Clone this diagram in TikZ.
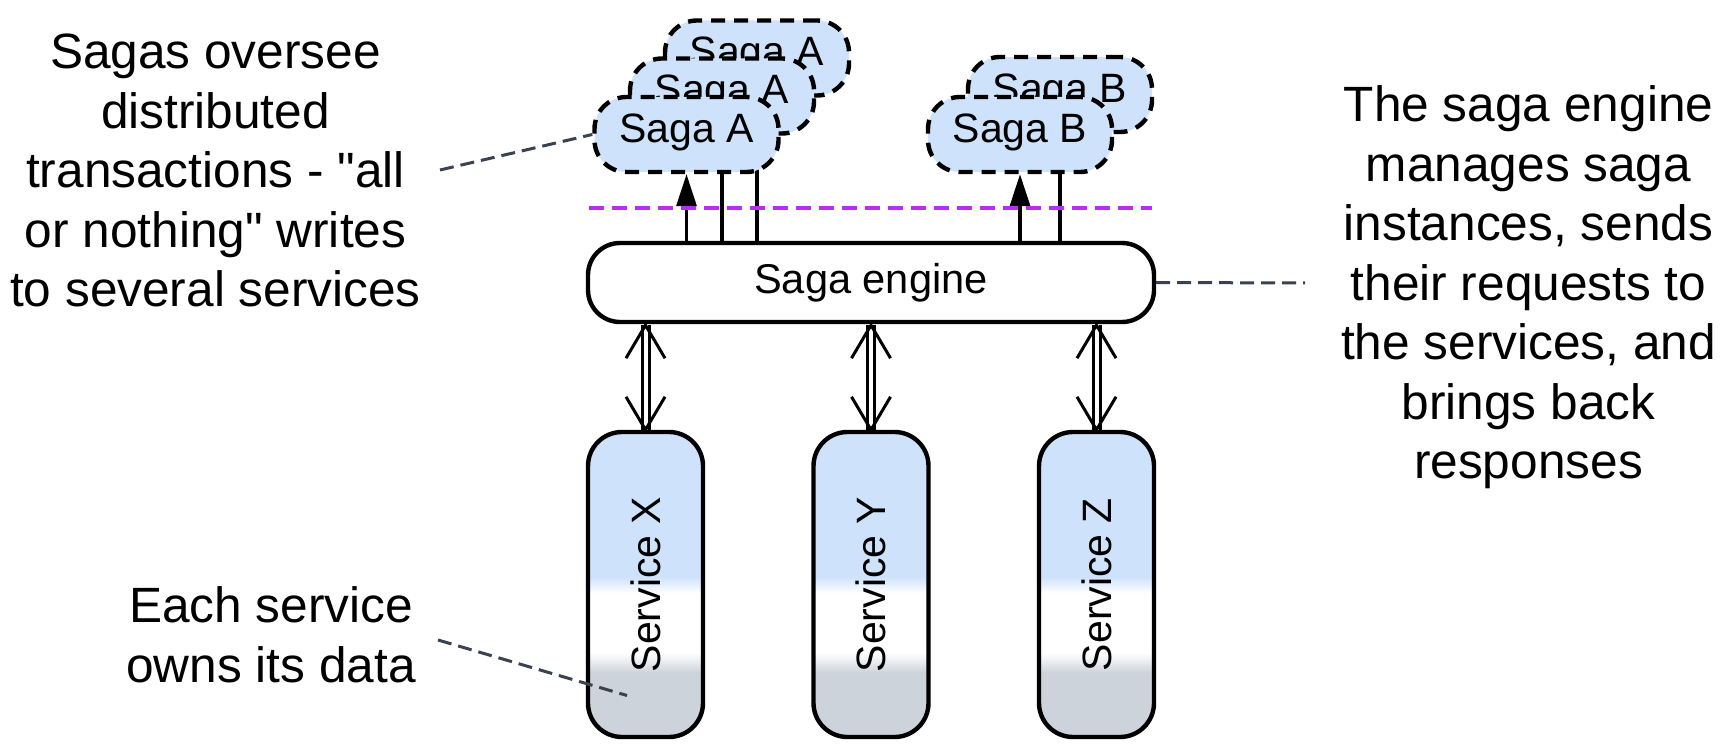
\documentclass[tikz,border=0pt]{standalone}
\usepackage{fontspec}
\setmainfont{Liberation Sans}
\usetikzlibrary{calc,backgrounds,arrows.meta}
\newcommand\straightq{{\XeTeXglyph\XeTeXcharglyph"22\relax}}
\definecolor{sagablue}{RGB}{206,226,252}
\definecolor{svcgrey}{RGB}{205,211,219}
\definecolor{connclr}{RGB}{58,66,80}
\definecolor{purp}{HTML}{B72EF2}
\pgfdeclareverticalshading{svcshade}{100bp}{color(0bp)=(svcgrey); color(35.5bp)=(svcgrey); color(38.8bp)=(white); color(48.6bp)=(white); color(51.2bp)=(sagablue); color(100bp)=(sagablue)}
\begin{document}
\begin{tikzpicture}[x=0.5pt,y=-0.5pt,
 sagabox/.style={draw=black, line width=2.2pt, dash pattern=on 7pt off 4.5pt, fill=sagablue, rounded corners=16pt, minimum width=92pt, minimum height=37.5pt, inner sep=0pt, font=\fontsize{20.5}{24}\selectfont, text height=14.8pt, text depth=7pt},
 engbox/.style={draw=black, line width=2.2pt, fill=white, rounded corners=16pt, minimum width=283pt, minimum height=39.5pt, inner sep=0pt, font=\fontsize{20.8}{24}\selectfont},
 svcbox/.style={draw=black, line width=2.2pt, shade, shading=svcshade, rounded corners=17pt, minimum width=57.5pt, minimum height=152.5pt, inner sep=0pt, font=\fontsize{20.5}{24}\selectfont},
 note/.style={align=center, inner sep=0pt, anchor=north, font=\fontsize{24.8}{29.75}\selectfont},
 conn/.style={draw=connclr, line width=1.5pt, dash pattern=on 7pt off 3.5pt},
 uparrow/.style={draw=black, line width=1.6pt, -{Triangle[width=10pt,length=16pt]}},
 upline/.style={draw=black, line width=1.6pt},
 dblline/.style={draw=black, double=white, double distance=2pt, line width=1.5pt},
 vhead/.style={draw=black, line width=1.5pt, line join=miter},
 purpline/.style={draw=purp, line width=1.6pt, dash pattern=on 7.5pt off 4pt}
]
\useasboundingbox (0,0) rectangle (1733,748);

% saga instances
\node[sagabox] (a3) at (757,58) {Saga A};
\node[sagabox] (a2) at (722,96) {Saga A};
\node[sagabox] (a1) at (686.5,134.5) {Saga A};
\node[sagabox] (b2) at (1060,94.5) {Saga B};
\node[sagabox] (b1) at (1020,134.5) {Saga B};

% engine
\node[engbox] (eng) at (871,282.5) {Saga engine};

% services
\node[svcbox] (sx) at (645.5,584.5) {\rotatebox{90}{Service X}};
\node[svcbox] (sy) at (871,584.5) {\rotatebox{90}{Service Y}};
\node[svcbox] (sz) at (1096.5,584.5) {\rotatebox{90}{Service Z}};

% engine to saga lines
\begin{scope}[on background layer]
\draw[uparrow] (eng.north -| a1.south) -- (a1.south);
\draw[upline] (eng.north -| a2.south) -- (a2.south);
\draw[upline] (eng.north -| a3.south) -- (a3.south);
\draw[uparrow] (eng.north -| b1.south) -- (b1.south);
\draw[upline] (eng.north -| b2.south) -- (b2.south);
\end{scope}

% separator
\coordinate (pl) at (589,208);
\coordinate (pr) at (1152,208);
\draw[purpline] (pl) -- (pr);

% double arrows
\foreach \s in {sx,sy,sz}{
  \coordinate (\s t) at ($(eng.south -| \s.north)+(0,1)$);
  \coordinate (\s b) at (\s.north);
  \draw[dblline] (\s t) -- (\s b);
  \draw[vhead] ($(\s t)+(-19.5,33)$) -- (\s t) -- ($(\s t)+(19.5,33)$);
  \draw[vhead] ($(\s b)+(-19.5,-33)$) -- (\s b) -- ($(\s b)+(19.5,-33)$);
}

% annotations
\node[note] (n1) at (215.5,33.5) {Sagas oversee\\distributed\\transactions - \straightq all\\or nothing\straightq{} writes\\to several services};
\node[note] (n2) at (1528.5,85.5) {The saga engine\\manages saga\\instances, sends\\their requests to\\the services, and\\brings back\\responses};
\node[note] (n3) at (271,586.5) {Each service\\owns its data};

\coordinate (c1) at (440,170);
\draw[conn] (c1) -- (a1.west);
\coordinate (c2) at (1305,283);
\draw[conn] (eng.east) -- (c2);
\coordinate (c3) at (438,640);
\coordinate (c3e) at ($(sx.center)+(-18.5,111)$);
\draw[conn] (c3) -- (c3e);
\end{tikzpicture}
\end{document}
